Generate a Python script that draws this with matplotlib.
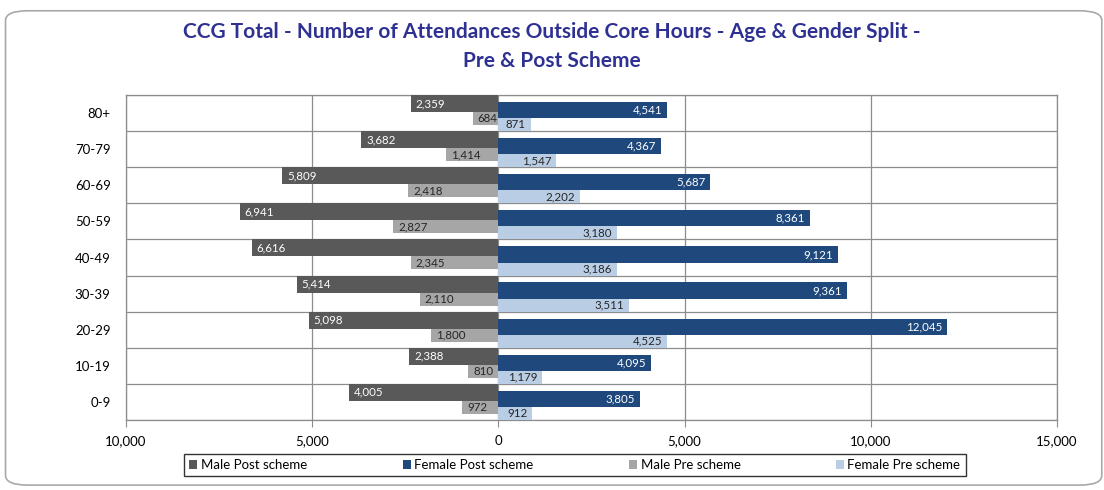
import matplotlib
matplotlib.use("Agg")
import matplotlib.pyplot as plt
from matplotlib.patches import FancyBboxPatch, Patch
from matplotlib.ticker import FuncFormatter, MultipleLocator, FixedLocator
import numpy as np

plt.rcParams['font.family'] = ['Lato', 'DejaVu Sans']

categories = ["0-9", "10-19", "20-29", "30-39", "40-49", "50-59", "60-69", "70-79", "80+"]
male_post = [4005, 2388, 5098, 5414, 6616, 6941, 5809, 3682, 2359]
female_post = [3805, 4095, 12045, 9361, 9121, 8361, 5687, 4367, 4541]
male_pre = [972, 810, 1800, 2110, 2345, 2827, 2418, 1414, 684]
female_pre = [912, 1179, 4525, 3511, 3186, 3180, 2202, 1547, 871]
series_names = ["Male Post scheme", "Female Post scheme", "Male Pre scheme", "Female Pre scheme"]
colors = ["#595959", "#1F497D", "#A6A6A6", "#B9CDE5"]
title = "CCG Total - Number of Attendances Outside Core Hours - Age & Gender Split -\nPre & Post Scheme"

fig = plt.figure(figsize=(11.04, 4.9), dpi=100)
# rounded outer frame
fig.patches.append(FancyBboxPatch((0.005, 0.01), 0.993, 0.968, boxstyle="round,pad=0,rounding_size=0.02",
                                  transform=fig.transFigure, fill=False, edgecolor="#A8A8A8", linewidth=1.2))
ax = fig.add_axes([0.1141, 0.1429, 0.9574 - 0.1141, 0.806 - 0.1429])

y = np.arange(len(categories))
# span of each series within a category band, measured downward from the band top
spans = [(0.0, 0.47), (0.19, 0.64), (0.47, 0.83), (0.64, 1.0)]
data = [[-v for v in male_post], female_post, [-v for v in male_pre], female_pre]
raws = [male_post, female_post, male_pre, female_pre]
for i, (vals, col, (t0, t1)) in enumerate(zip(data, colors, spans)):
    centers = y + 0.5 - (t0 + t1) / 2
    h = t1 - t0
    ax.barh(centers, vals, height=h, color=col, zorder=4 if i < 2 else 3)
    tc = "white" if i < 2 else "#262626"
    for c, v, r in zip(centers, vals, raws[i]):
        txt = f"{r:,}"
        if v < 0:
            ax.text(v + 130, c, txt, ha="left", va="center", fontsize=8.3, color=tc, zorder=6)
        else:
            ax.text(v - 130, c, txt, ha="right", va="center", fontsize=8.3, color=tc, zorder=6)

ax.set_xlim(-10000, 15000)
ax.set_ylim(-0.5, len(categories) - 0.5)
ax.xaxis.set_major_locator(MultipleLocator(5000))
ax.xaxis.set_major_formatter(FuncFormatter(lambda v, p: f"{abs(int(v)):,}"))
ax.set_yticks(y)
ax.set_yticklabels(categories)
ax.yaxis.set_minor_locator(FixedLocator(np.arange(-0.5, len(categories), 1)))
ax.grid(axis="x", which="major", color="#8C8C8C", linewidth=0.9, zorder=0)
ax.grid(axis="y", which="minor", color="#8C8C8C", linewidth=0.9, zorder=0)
ax.tick_params(axis="y", which="both", length=0, labelsize=9.5, pad=11, colors="#000000")
ax.tick_params(axis="x", which="major", length=5, color="#8C8C8C", labelsize=9.5, pad=6)
for s in ax.spines.values():
    s.set_color("#8C8C8C")
    s.set_linewidth(0.9)

fig.text(0.5, 0.905, title, ha="center", va="center", fontsize=15, fontweight="bold",
         color="#2E3192", linespacing=1.55)

handles = [Patch(facecolor=c, edgecolor="none") for c in colors]
leg = fig.legend(handles, series_names, loc="center", bbox_to_anchor=(0.5208, 0.051), ncol=4,
                 frameon=True, fontsize=9.5, handlelength=0.6, handleheight=0.6, handletextpad=0.3,
                 columnspacing=7.2, borderpad=0.4, fancybox=False)
leg.get_frame().set_edgecolor("#000000")
leg.get_frame().set_linewidth(1.0)

fig.savefig("out.png", dpi=100)
